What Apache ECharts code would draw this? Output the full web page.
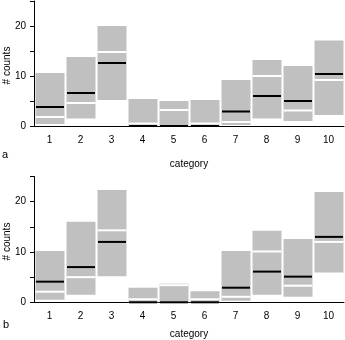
<!DOCTYPE html>
<html><head><meta charset="utf-8">
<script src="https://cdn.jsdelivr.net/npm/echarts@6/dist/echarts.min.js"></script>
<style>html,body{margin:0;padding:0;background:#fff}#c{width:345px;height:340px}</style>
</head><body><div id="c"></div>
<script>
const categories = ['1','2','3','4','5','6','7','8','9','10'];
const yTicks = [0, 10, 20];
// panel a
const aLow    = [0.4, 1.5, 5.2, 0, 0, 0, 0.2, 1.5, 1.0, 2.2];
const aHigh   = [10.6, 13.8, 20.0, 5.4, 5.0, 5.2, 9.2, 13.2, 12.0, 17.1];
const aWhite  = [1.8, 4.6, 14.8, 0.5, 3.2, 0.5, 0.8, 10.0, 3.1, 9.2];
const aMedian = [3.8, 6.6, 12.6, 0, 0, 0, 2.9, 6.0, 5.0, 10.4];
// panel b
const bLow    = [0.5, 1.5, 5.2, 0, 0, 0, 0.3, 1.5, 1.1, 5.9];
const bHigh   = [10.2, 16.0, 22.3, 2.9, 3.7, 2.2, 10.2, 14.2, 12.6, 21.9];
const bWhite  = [2.1, 5.0, 14.3, 0.6, 3.4, 0.6, 1.1, 10.1, 3.3, 12.0];
const bMedian = [4.1, 7.0, 12.0, 0, 0, 0, 2.9, 6.1, 5.1, 13.0];

const FONT = 'Liberation Sans';
function build(lo, hi, wh, md) {
  return categories.map((c, i) => [i, lo[i], hi[i], wh[i], md[i]]);
}
function renderItem(params, api) {
  const i = api.value(0);
  const bw = api.size([1, 0])[0];
  const w = bw - 2;
  const pLo = api.coord([i, api.value(1)]);
  const pHi = api.coord([i, api.value(2)]);
  const pWh = api.coord([i, api.value(3)]);
  const pMd = api.coord([i, api.value(4)]);
  const x0 = pLo[0] - w / 2 + 0.5;
  return {
    type: 'group',
    children: [
      { type: 'rect', shape: { x: x0, y: pHi[1], width: w, height: pLo[1] - pHi[1] }, style: { fill: '#c0c0c0' } },
      { type: 'rect', shape: { x: x0, y: pWh[1] - 1, width: w, height: 2 }, style: { fill: '#ffffff' } },
      { type: 'rect', shape: { x: x0 + 0.5, y: pMd[1] - 1, width: w - 1, height: 2 }, style: { fill: '#000000' } }
    ]
  };
}
function xAx(idx) {
  return {
    type: 'category', gridIndex: idx, data: categories,
    axisLine: { lineStyle: { color: '#000', width: 1 } },
    axisTick: { length: 4, lineStyle: { color: '#000' } },
    axisLabel: { color: '#000', fontSize: 10, fontFamily: FONT, margin: 9 },
    splitLine: { show: false }
  };
}
function yAx(idx) {
  return {
    type: 'value', gridIndex: idx, min: 0, max: 25, interval: 5,
    axisLine: { show: true, lineStyle: { color: '#000', width: 1 } },
    axisTick: { show: true, length: 4, lineStyle: { color: '#000' } },
    axisLabel: { color: '#000', fontSize: 10, fontFamily: FONT, margin: 8,
      formatter: v => yTicks.indexOf(v) >= 0 ? String(v) : '' },
    splitLine: { show: false }
  };
}
const chart = echarts.init(document.getElementById('c'), null, { renderer: 'canvas' });
chart.setOption({
  animation: false,
  grid: [
    { left: 34, top: 1, width: 310, height: 125 },
    { left: 34, top: 176.5, width: 310, height: 125.8 }
  ],
  xAxis: [xAx(0), xAx(1)],
  yAxis: [yAx(0), yAx(1)],
  series: [
    { type: 'custom', xAxisIndex: 0, yAxisIndex: 0, renderItem, data: build(aLow, aHigh, aWhite, aMedian), encode: { x: 0, y: [1, 2] } },
    { type: 'custom', xAxisIndex: 1, yAxisIndex: 1, renderItem, data: build(bLow, bHigh, bWhite, bMedian), encode: { x: 0, y: [1, 2] } }
  ],
  graphic: [
    { type: 'text', left: 2, top: 149, style: { text: 'a', fontSize: 11, fontFamily: FONT, fill: '#000' } },
    { type: 'text', left: 3, top: 319, style: { text: 'b', fontSize: 11, fontFamily: FONT, fill: '#000' } },
    { type: 'text', x: 189, y: 164.5, style: { text: 'category', fontSize: 10, fontFamily: FONT, fill: '#000', align: 'center', verticalAlign: 'middle' } },
    { type: 'text', x: 189, y: 334.5, style: { text: 'category', fontSize: 10, fontFamily: FONT, fill: '#000', align: 'center', verticalAlign: 'middle' } },
    { type: 'text', x: 7.5, y: 65.5, rotation: Math.PI / 2, style: { text: '# counts', fontSize: 10, fontFamily: FONT, fill: '#000', align: 'center', verticalAlign: 'middle' } },
    { type: 'text', x: 7.5, y: 241.5, rotation: Math.PI / 2, style: { text: '# counts', fontSize: 10, fontFamily: FONT, fill: '#000', align: 'center', verticalAlign: 'middle' } }
  ]
});
</script></body></html>
